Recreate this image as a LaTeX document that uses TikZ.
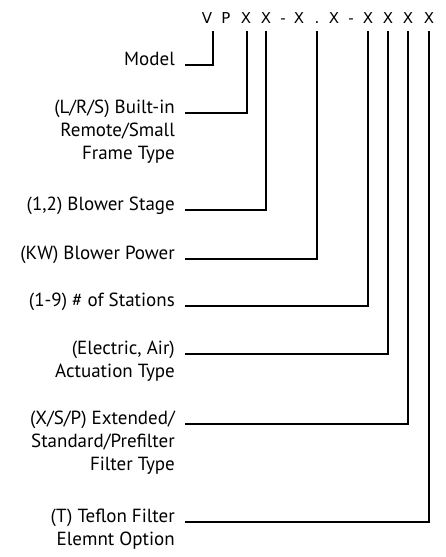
\documentclass[tikz,border=0pt]{standalone}
\usepackage{fontspec}
\setmainfont{PT Sans}
\newfontfamily\codefont{DejaVu Sans}
\usetikzlibrary{positioning}
% right aligned lines, baseline on the first one
\newcommand{\desclines}[1]{\begin{tabular}[t]{@{}r@{}}#1\end{tabular}}

\begin{document}
\begin{tikzpicture}[
  x=1pt, y=-1pt,
  desc/.style={anchor=base east, inner sep=0pt,
    font=\fontsize{19}{23}\selectfont},
  code/.style={anchor=base, inner sep=0pt,
    font=\codefont\fontsize{15}{16}\selectfont},
  link/.style={line width=1.6pt}
]
\useasboundingbox (0,0) rectangle (445,557);
% part number
\foreach \ch/\x [count=\i] in {V/207, P/226, X/246, X/266, -/283, X/299,
    ./317, X/334, -/351, X/368, X/388, X/408, X/429}
  \node[code] (pn\i) at (\x,23) {\ch};
% descriptions
\node[desc] (model)    at (175,65)  {Model};
\node[desc] (frame)    at (175,113) {\desclines{(L/R/S) Built-in\\Remote/Small\\Frame Type}};
\node[desc] (stage)    at (175,210) {(1,2) Blower Stage};
\node[desc] (power)    at (175,259) {(KW) Blower Power};
\node[desc] (stations) at (175,306) {(1-9) \# of Stations};
\node[desc] (actuate)  at (175,354) {\desclines{(Electric, Air)\\Actuation Type}};
\node[desc] (filter)   at (175,424) {\desclines{(X/S/P) Extended/\\Standard/Prefilter\\Filter Type}};
\node[desc] (teflon)   at (175,522) {\desclines{(T) Teflon Filter\\Elemnt Option}};
% connectors
\draw[link] ([xshift=10pt]model.base east)    -| ([xshift=6pt,yshift=-8pt]pn1.base);
\draw[link] ([xshift=10pt]frame.base east)    -| ([xshift=1pt,yshift=-8pt]pn3.base);
\draw[link] ([xshift=10pt]stage.base east)    -| ([yshift=-8pt]pn4.base);
\draw[link] ([xshift=10pt]power.base east)    -| ([yshift=-8pt]pn7.base);
\draw[link] ([xshift=10pt]stations.base east) -| ([yshift=-8pt]pn10.base);
\draw[link] ([xshift=10pt]actuate.base east)  -| ([yshift=-8pt]pn11.base);
\draw[link] ([xshift=10pt]filter.base east)   -| ([yshift=-8pt]pn12.base);
\draw[link] ([xshift=10pt]teflon.base east)   -| ([yshift=-8pt]pn13.base);
\end{tikzpicture}
\end{document}
